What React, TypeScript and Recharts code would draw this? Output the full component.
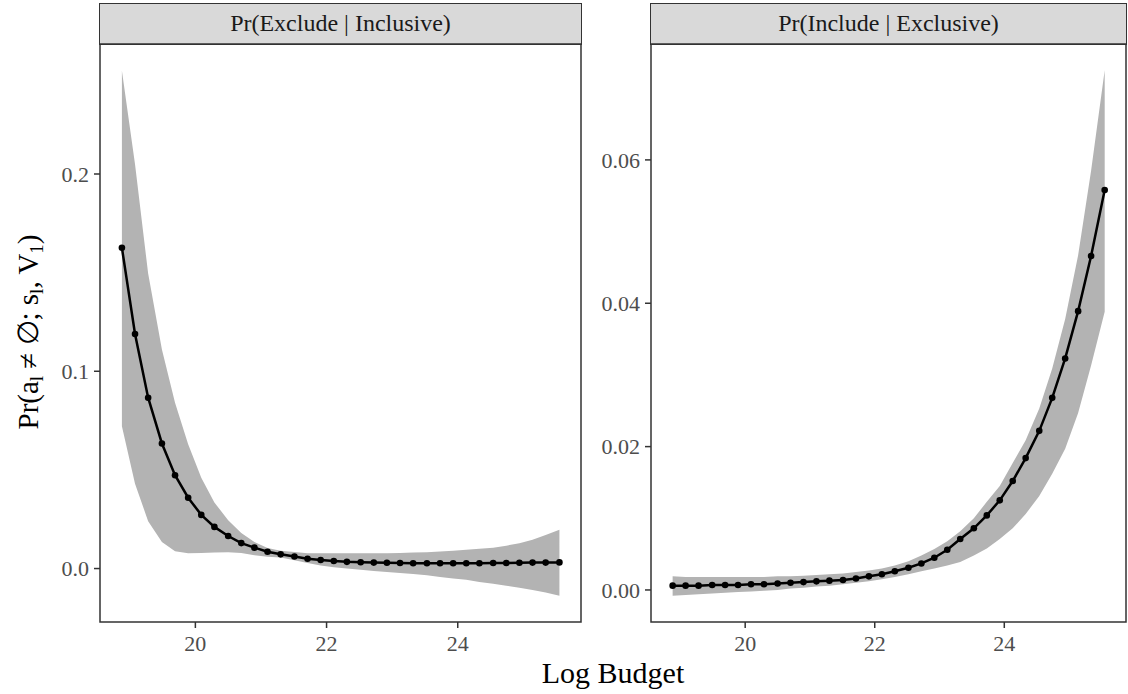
import * as React from 'react';
import { ComposedChart, Area, Line, XAxis, YAxis, ReferenceArea } from 'recharts';

// log budget values (shared by both facets)
const logBudget = [
  18.88, 19.08, 19.28, 19.49, 19.69, 19.89, 20.09, 20.29, 20.50, 20.70, 20.90, 21.10,
  21.30, 21.51, 21.71, 21.91, 22.11, 22.31, 22.52, 22.72, 22.92, 23.12, 23.32, 23.53,
  23.73, 23.93, 24.13, 24.33, 24.54, 24.74, 24.94, 25.14, 25.34, 25.55,
];

// Pr(Exclude | Inclusive)
const excludeMid = [
  0.1626, 0.1189, 0.0866, 0.0634, 0.0473, 0.0359, 0.0272, 0.0211, 0.0165, 0.0129, 0.0106, 0.0085,
  0.0072, 0.0061, 0.0050, 0.0043, 0.0038, 0.0034, 0.0032, 0.0030, 0.0029, 0.0028, 0.0027, 0.0027,
  0.0027, 0.0027, 0.0027, 0.0027, 0.0028, 0.0028, 0.0029, 0.0030, 0.0030, 0.0031,
];
const excludeLow = [
  0.0721, 0.0430, 0.0240, 0.0134, 0.0088, 0.0078, 0.0079, 0.0081, 0.0083, 0.0079, 0.0068, 0.0060,
  0.0056, 0.0042, 0.0028, 0.0015, 0.0007, 0.0000, -0.0006, -0.0012, -0.0018, -0.0023, -0.0028, -0.0034,
  -0.0043, -0.0050, -0.0057, -0.0068, -0.0077, -0.0087, -0.0097, -0.0109, -0.0122, -0.0138,
];
const excludeHigh = [
  0.2524, 0.2050, 0.1495, 0.1110, 0.0840, 0.0630, 0.0460, 0.0335, 0.0245, 0.0180, 0.0134, 0.0104,
  0.0090, 0.0084, 0.0078, 0.0077, 0.0077, 0.0077, 0.0077, 0.0078, 0.0078, 0.0079, 0.0081, 0.0083,
  0.0086, 0.0090, 0.0095, 0.0100, 0.0106, 0.0116, 0.0128, 0.0146, 0.0170, 0.0197,
];

// Pr(Include | Exclusive)
const includeMid = [
  0.0006, 0.0006, 0.0006, 0.0007, 0.0007, 0.0007, 0.0008, 0.0008, 0.0009, 0.0010, 0.0011, 0.0012,
  0.0013, 0.0014, 0.0016, 0.0019, 0.0022, 0.0026, 0.0031, 0.0037, 0.0045, 0.0056, 0.0071, 0.0086,
  0.0104, 0.0125, 0.0152, 0.0184, 0.0222, 0.0268, 0.0323, 0.0389, 0.0466, 0.0558,
];
const includeLow = [
  -0.0008, -0.0007, -0.0006, -0.0005, -0.0004, -0.0003, -0.0002, -0.0001, 0.0000, 0.0002, 0.0003, 0.0005,
  0.0006, 0.0008, 0.0010, 0.0012, 0.0015, 0.0018, 0.0022, 0.0026, 0.0030, 0.0034, 0.0039, 0.0048,
  0.0058, 0.0071, 0.0086, 0.0106, 0.0131, 0.0162, 0.0197, 0.0247, 0.0313, 0.0388,
];
const includeHigh = [
  0.0019, 0.0018, 0.0018, 0.0018, 0.0018, 0.0018, 0.0018, 0.0018, 0.0019, 0.0019, 0.0020, 0.0021,
  0.0022, 0.0023, 0.0025, 0.0027, 0.0030, 0.0034, 0.0040, 0.0048, 0.0057, 0.0068, 0.0082, 0.0100,
  0.0123, 0.0145, 0.0177, 0.0209, 0.0253, 0.0309, 0.0378, 0.0467, 0.0585, 0.0725,
];

const budgetTicks = [20, 22, 24];
const excludeTicks = [0, 0.1, 0.2];
const includeTicks = [0, 0.02, 0.04, 0.06];

const xDomain: [number, number] = [18.546, 25.879];
const excludeDomain: [number, number] = [-0.0271, 0.2659];
const includeDomain: [number, number] = [-0.00447, 0.07617];

const FONT = '"Liberation Serif", "DejaVu Serif", serif';
const FRAME = '#333333';

const buildRows = (mid: number[], low: number[], high: number[]) =>
  logBudget.map((x, i) => ({ x, mid: mid[i], band: [low[i], high[i]] }));

const excludeRows = buildRows(excludeMid, excludeLow, excludeHigh);
const includeRows = buildRows(includeMid, includeLow, includeHigh);

function YLabel() {
  return (
    <text transform="translate(38,332) rotate(-90)" textAnchor="middle" fontFamily={FONT} fontSize={29} fill="#000">
      <tspan>Pr(a</tspan>
      <tspan fontSize={19} dy={5}>l</tspan>
      <tspan dy={-5}> ≠ ∅; s</tspan>
      <tspan fontSize={19} dy={5}>l</tspan>
      <tspan dy={-5}>, V</tspan>
      <tspan fontSize={19} dy={5}>1</tspan>
      <tspan dy={-5}>)</tspan>
    </text>
  );
}

interface PanelProps {
  title: string;
  rows: { x: number; mid: number; band: number[] }[];
  yDomain: [number, number];
  yTicks: number[];
  digits: number;
  left: number;
  width: number;
  axisWidth: number;
  rightPad: number;
  withLabel?: boolean;
}

function Panel(props: PanelProps) {
  const { title, rows, yDomain, yTicks, digits, left, width, axisWidth, rightPad, withLabel } = props;
  const plotLeft = left + axisWidth;
  const plotWidth = width - axisWidth - rightPad;
  return (
    <>
      <div
        style={{
          position: 'absolute',
          left: plotLeft - 0.75,
          top: 3,
          width: plotWidth + 1.5,
          height: 42,
          boxSizing: 'border-box',
          border: `1.5px solid ${FRAME}`,
          background: '#d9d9d9',
          color: '#1a1a1a',
          fontFamily: FONT,
          fontSize: 24,
          lineHeight: '39px',
          textAlign: 'center',
        }}
      >
        {title}
      </div>
      <div style={{ position: 'absolute', left, top: 0 }}>
        <ComposedChart width={width} height={694} data={rows} margin={{ top: 44, right: rightPad, bottom: 42, left: 0 }}>
          <XAxis
            type="number"
            dataKey="x"
            domain={xDomain}
            ticks={budgetTicks}
            allowDataOverflow
            axisLine={false}
            tickLine={{ stroke: FRAME, strokeWidth: 1.5 }}
            tickSize={6}
            tickMargin={7}
            height={30}
            tick={{ fill: '#4d4d4d', fontSize: 22, fontFamily: FONT }}
          />
          <YAxis
            type="number"
            domain={yDomain}
            ticks={yTicks}
            allowDataOverflow
            width={axisWidth}
            axisLine={false}
            tickLine={{ stroke: FRAME, strokeWidth: 1.5 }}
            tickSize={6}
            tickMargin={5}
            tickFormatter={(v: number) => v.toFixed(digits)}
            tick={{ fill: '#4d4d4d', fontSize: 22, fontFamily: FONT }}
            label={withLabel ? <YLabel /> : undefined}
          />
          <Area
            type="linear"
            dataKey="band"
            stroke="none"
            fill="#b3b3b3"
            fillOpacity={1}
            isAnimationActive={false}
          />
          <Line
            type="linear"
            dataKey="mid"
            stroke="#000"
            strokeWidth={2.5}
            dot={{ r: 3.3, fill: '#000', stroke: '#000', strokeWidth: 0 }}
            isAnimationActive={false}
          />
          <ReferenceArea
            x1={xDomain[0]}
            x2={xDomain[1]}
            y1={yDomain[0]}
            y2={yDomain[1]}
            fill="none"
            stroke={FRAME}
            strokeWidth={1.5}
            ifOverflow="visible"
          />
        </ComposedChart>
      </div>
    </>
  );
}

export default function App() {
  return (
    <div style={{ position: 'absolute', left: 0, top: 0, width: 1128, height: 694, background: '#fff' }}>
      <Panel
        title="Pr(Exclude | Inclusive)"
        rows={excludeRows}
        yDomain={excludeDomain}
        yTicks={excludeTicks}
        digits={1}
        left={0}
        width={590}
        axisWidth={100}
        rightPad={9}
        withLabel
      />
      <Panel
        title="Pr(Include | Exclusive)"
        rows={includeRows}
        yDomain={includeDomain}
        yTicks={includeTicks}
        digits={2}
        left={560}
        width={568}
        axisWidth={91}
        rightPad={2}
      />
      <div
        style={{
          position: 'absolute',
          left: 413,
          top: 655,
          width: 400,
          textAlign: 'center',
          fontFamily: FONT,
          fontSize: 30,
          lineHeight: '36px',
          color: '#000',
        }}
      >
        Log Budget
      </div>
    </div>
  );
}
